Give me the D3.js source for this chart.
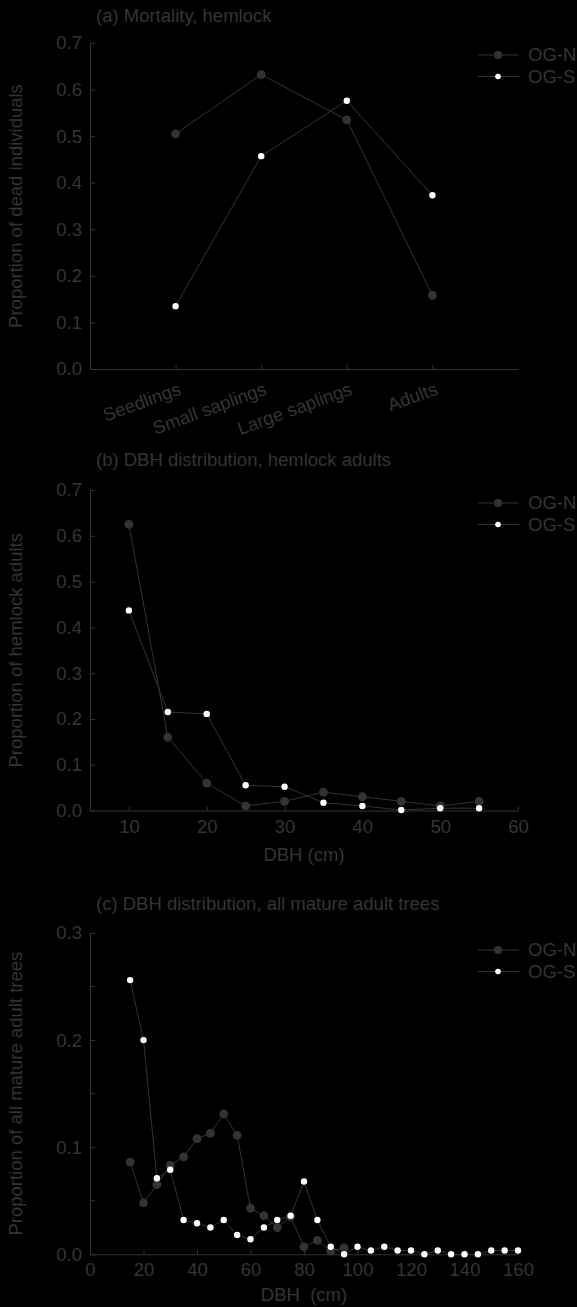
<!DOCTYPE html>
<html>
<head>
<meta charset="utf-8">
<script src="https://cdn.jsdelivr.net/npm/d3@7/dist/d3.min.js"></script>
<style>
  html, body { margin: 0; padding: 0; background: #000; }
  svg { display: block; }
  text { font-family: "Liberation Sans", Arial, Helvetica, sans-serif; fill: #343434; }
</style>
</head>
<body>
<svg id="chart" width="577" height="1307"></svg>
<script>
// ---- Data -------------------------------------------------------------
const seriesNames = ["OG-N", "OG-S"];

// (a) Mortality, hemlock — proportion of dead individuals per size class
const stageCategories = ["Seedlings", "Small saplings", "Large saplings", "Adults"];
const mortalityOGN = [0.505, 0.632, 0.535, 0.158];
const mortalityOGS = [0.135, 0.457, 0.576, 0.373];

// (b) DBH distribution, hemlock adults
const hemlockDBH = [10, 15, 20, 25, 30, 35, 40, 45, 50, 55];
const hemlockOGN = [0.625, 0.160, 0.060, 0.010, 0.020, 0.040, 0.030, 0.020, 0.010, 0.020];
const hemlockOGS = [0.437, 0.215, 0.211, 0.055, 0.052, 0.017, 0.010, 0.001, 0.005, 0.005];

// (c) DBH distribution, all mature adult trees
const allDBH_N = [15, 20, 25, 30, 35, 40, 45, 50, 55, 60, 65, 70, 75, 80, 85, 90, 95];
const allOGN = [0.086, 0.048, 0.065, 0.083, 0.091, 0.108, 0.113, 0.131, 0.111, 0.043, 0.036, 0.025, 0.035, 0.007, 0.013, 0.003, 0.006];
const allDBH_S = [15, 20, 25, 30, 35, 40, 45, 50, 55, 60, 65, 70, 75, 80, 85, 90, 95, 100,
                  105, 110, 115, 120, 125, 130, 135, 140, 145, 150, 155, 160];
const allOGS = [0.256, 0.200, 0.071, 0.079, 0.032, 0.029, 0.025, 0.032, 0.018, 0.014, 0.025, 0.032, 0.036, 0.068, 0.032, 0.007, 0.000, 0.007,
                0.0035, 0.007, 0.0035, 0.0035, 0.000, 0.0035, 0.000, 0.000, 0.000, 0.0035, 0.0035, 0.0035];

// Tick values
const ticksA_y = [0, 0.1, 0.2, 0.3, 0.4, 0.5, 0.6, 0.7];
const ticksB_x = [10, 20, 30, 40, 50, 60];
const ticksB_y = [0, 0.1, 0.2, 0.3, 0.4, 0.5, 0.6, 0.7];
const ticksC_x = [0, 20, 40, 60, 80, 100, 120, 140, 160];
const ticksC_yMajor = [0, 0.1, 0.2, 0.3];
const ticksC_yMinor = [0.05, 0.15, 0.25];

// ---- Styling ----------------------------------------------------------
const INK = "#343434";
const DOT_N = "#333333";
const DOT_S = "#ffffff";
const FONT = 18.5;
const X0 = 90, X1 = 518;

const svg = d3.select("#chart");

function styleAxis(g) {
  g.selectAll("path.domain").attr("stroke", INK).attr("stroke-width", 1);
  g.selectAll(".tick line").attr("stroke", INK).attr("stroke-width", 1);
  g.selectAll(".tick text").attr("fill", INK).attr("font-size", FONT)
    .attr("font-family", "Liberation Sans, Arial, sans-serif");
}

function drawPanel(opt) {
  const g = svg.append("g");
  const x = opt.x, y = opt.y;

  // title
  g.append("text").attr("x", 96).attr("y", opt.titleY)
    .attr("font-size", FONT).text(opt.title);

  // y axis
  const yAxis = d3.axisLeft(y).tickValues(opt.yTicks)
    .tickFormat(opt.yFormat).tickSizeInner(-5).tickSizeOuter(0).tickPadding(8);
  const gy = g.append("g").attr("transform", `translate(${X0},0)`).call(yAxis);
  styleAxis(gy);
  if (opt.yMinor) {
    gy.selectAll("line.minor").data(opt.yMinor).join("line")
      .attr("class", "minor").attr("x1", 0).attr("x2", 5)
      .attr("y1", d => y(d)).attr("y2", d => y(d))
      .attr("stroke", INK);
  }

  // y title
  const yMid = (y.range()[0] + y.range()[1]) / 2;
  g.append("text")
    .attr("transform", `translate(22,${yMid}) rotate(-90)`)
    .attr("text-anchor", "middle").attr("font-size", FONT)
    .text(opt.yTitle);

  // x axis
  const y0 = y.range()[0];
  const xAxis = d3.axisBottom(x).tickValues(opt.xTicks)
    .tickSizeInner(-4).tickSizeOuter(0).tickPadding(9);
  if (opt.xFormat) xAxis.tickFormat(opt.xFormat);
  const gx = g.append("g").attr("transform", `translate(0,${y0})`).call(xAxis);
  styleAxis(gx);
  if (opt.rotateLabels) {
    gx.selectAll(".tick text")
      .attr("text-anchor", "end")
      .attr("dy", null)
      .attr("y", null)
      .attr("transform", "translate(6,25) rotate(-20)");
  }
  if (opt.xTitle) {
    g.append("text").attr("x", (X0 + X1) / 2).attr("y", opt.xTitleY)
      .attr("text-anchor", "middle").attr("font-size", FONT)
      .attr("xml:space", "preserve").style("white-space", "pre")
      .text(opt.xTitle);
  }

  // series
  const line = d3.line().x(d => x(d[0])).y(d => y(d[1]));
  opt.series.forEach(s => {
    const pts = s.xs.map((v, i) => [v, s.ys[i]]);
    s.pts = pts;
    g.append("path").datum(pts).attr("d", line)
      .attr("fill", "none").attr("stroke", INK).attr("stroke-width", 1);
  });
  opt.series.forEach(s => {
    g.append("g").selectAll("circle").data(s.pts).join("circle")
      .attr("cx", d => x(d[0])).attr("cy", d => y(d[1]))
      .attr("r", s.r).attr("fill", s.fill);
  });

  // legend
  const lg = g.append("g").attr("transform", `translate(478,${opt.legendY})`);
  opt.series.forEach((s, i) => {
    const row = lg.append("g").attr("transform", `translate(0,${i * 21.5})`);
    row.append("line").attr("x1", 0).attr("x2", 41).attr("y1", 0).attr("y2", 0)
      .attr("stroke", INK);
    row.append("circle").attr("cx", 20).attr("cy", 0).attr("r", s.r - 0.4).attr("fill", s.fill);
    row.append("text").attr("x", 50).attr("y", 0).attr("dy", "0.35em")
      .attr("font-size", FONT).text(s.name);
  });
}

// ---- Panel (a) --------------------------------------------------------
const stageIdx = stageCategories.map((c, i) => i + 1);
const xA = d3.scaleLinear().domain([0, stageCategories.length + 1]).range([X0, X1]);
const yA = d3.scaleLinear().domain([0, 0.7]).range([369, 43]);
drawPanel({
  title: "(a) Mortality, hemlock", titleY: 22,
  x: xA, y: yA,
  xTicks: stageIdx, xFormat: d => stageCategories[d - 1], rotateLabels: true,
  yTicks: ticksA_y, yFormat: d3.format(".1f"),
  yTitle: "Proportion of dead individuals",
  legendY: 55,
  series: [
    { name: seriesNames[0], xs: stageIdx, ys: mortalityOGN, r: 4.4, fill: DOT_N },
    { name: seriesNames[1], xs: stageIdx, ys: mortalityOGS, r: 3.2, fill: DOT_S }
  ]
});

// ---- Panel (b) --------------------------------------------------------
const xB = d3.scaleLinear().domain([5, 60]).range([X0, X1]);
const yB = d3.scaleLinear().domain([0, 0.7]).range([810.5, 490]);
drawPanel({
  title: "(b) DBH distribution, hemlock adults", titleY: 466,
  x: xB, y: yB,
  xTicks: ticksB_x, xFormat: d3.format("d"),
  yTicks: ticksB_y, yFormat: d3.format(".1f"),
  yTitle: "Proportion of hemlock adults",
  xTitle: "DBH (cm)", xTitleY: 861,
  legendY: 503,
  series: [
    { name: seriesNames[0], xs: hemlockDBH, ys: hemlockOGN, r: 4.4, fill: DOT_N },
    { name: seriesNames[1], xs: hemlockDBH, ys: hemlockOGS, r: 3.2, fill: DOT_S }
  ]
});

// ---- Panel (c) --------------------------------------------------------
const xC = d3.scaleLinear().domain([0, 160]).range([X0, X1]);
const yC = d3.scaleLinear().domain([0, 0.3]).range([1254.3, 933]);
drawPanel({
  title: "(c) DBH distribution, all mature adult trees", titleY: 910,
  x: xC, y: yC,
  xTicks: ticksC_x, xFormat: d3.format("d"),
  yTicks: ticksC_yMajor, yFormat: d3.format(".1f"), yMinor: ticksC_yMinor,
  yTitle: "Proportion of all mature adult trees",
  xTitle: "DBH  (cm)", xTitleY: 1301,
  legendY: 950,
  series: [
    { name: seriesNames[0], xs: allDBH_N, ys: allOGN, r: 4.4, fill: DOT_N },
    { name: seriesNames[1], xs: allDBH_S, ys: allOGS, r: 3.2, fill: DOT_S }
  ]
});
</script>
</body>
</html>
